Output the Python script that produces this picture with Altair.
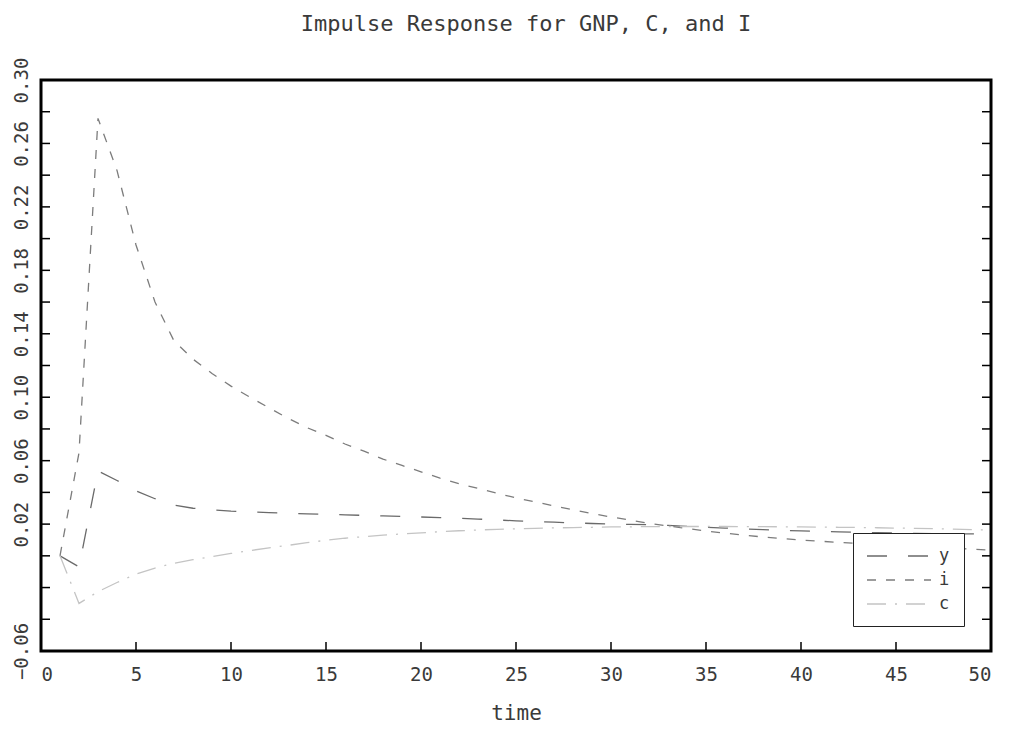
import altair as alt
import pandas as pd

# time index
t = list(range(1, 51))

# impulse responses
y_vals = [0.000, -0.007, 0.0535, 0.0475, 0.0410, 0.0360, 0.0320, 0.0300, 0.0290, 0.0282,
          0.0277, 0.0272, 0.0268, 0.0265, 0.0262, 0.0258, 0.0255, 0.0252, 0.0248, 0.0245,
          0.0241, 0.0237, 0.0232, 0.0226, 0.0221, 0.0216, 0.0212, 0.0208, 0.0204, 0.0201,
          0.0198, 0.0196, 0.0192, 0.0186, 0.0180, 0.0175, 0.0170, 0.0165, 0.0161, 0.0157,
          0.0154, 0.0151, 0.0148, 0.0146, 0.0144, 0.0142, 0.0140, 0.0139, 0.0138, 0.0137]
i_vals = [0.000, 0.065, 0.2758, 0.243, 0.196, 0.160, 0.1355, 0.124, 0.115, 0.107,
          0.100, 0.0933, 0.0867, 0.0808, 0.0760, 0.0705, 0.0660, 0.0610, 0.0570, 0.0530,
          0.0490, 0.0455, 0.0425, 0.0395, 0.0365, 0.0340, 0.0315, 0.0290, 0.0267, 0.0245,
          0.0225, 0.0205, 0.0188, 0.0172, 0.0157, 0.0143, 0.0130, 0.0119, 0.0109, 0.0100,
          0.0092, 0.0085, 0.0078, 0.0072, 0.0066, 0.0060, 0.0054, 0.0048, 0.0042, 0.0036]
c_vals = [0.000, -0.030, -0.0226, -0.0168, -0.0115, -0.0077, -0.0047, -0.0024, -0.0005, 0.0015,
          0.0033, 0.0050, 0.0066, 0.0083, 0.0098, 0.0111, 0.0121, 0.0130, 0.0138, 0.0145,
          0.0152, 0.0158, 0.0163, 0.0167, 0.0170, 0.0173, 0.0176, 0.0178, 0.0180, 0.0182,
          0.0183, 0.0184, 0.0185, 0.0185, 0.0185, 0.0185, 0.0184, 0.0184, 0.0183, 0.0182,
          0.0181, 0.0180, 0.0179, 0.0177, 0.0175, 0.0173, 0.0171, 0.0168, 0.0165, 0.0163]

series_names = ["y", "i", "c"]
series_colors = ["#6a6a6a", "#7c7c7c", "#c4c4c4"]
series_dash = [[20, 21], [9, 10], [19, 9, 2, 9]]

x_label_values = [0, 5, 10, 15, 20, 25, 30, 35, 40, 45, 50]
y_label_values = [0.30, 0.26, 0.22, 0.18, 0.14, 0.10, 0.06, 0.02, -0.06]
x_tick_values = [5, 10, 15, 20, 25, 30, 35, 40, 45]
y_tick_values = [-0.04, -0.02, 0.00, 0.02, 0.04, 0.06, 0.08, 0.10, 0.12, 0.14,
                 0.16, 0.18, 0.20, 0.22, 0.24, 0.26, 0.28]

W, H = 950, 571
FONT = "DejaVu Sans Mono"
TXT = "#3a3a3a"

rows = []
for name, vals in zip(series_names, [y_vals, i_vals, c_vals]):
    for tt, v in zip(t, vals):
        rows.append({"time": tt, "value": v, "series": name})
df = pd.DataFrame(rows)

xscale = alt.Scale(domain=[0, 50], nice=False, zero=False)
yscale = alt.Scale(domain=[-0.06, 0.30], nice=False, zero=False)

lines = alt.Chart(df).mark_line(strokeWidth=1.3).encode(
    x=alt.X("time:Q", scale=xscale,
            axis=alt.Axis(title="time", values=x_label_values, ticks=False, domain=False,
                          grid=False, labelFlush=True, labelPadding=14, titlePadding=18)),
    y=alt.Y("value:Q", scale=yscale,
            axis=alt.Axis(title=None, values=y_label_values, format=".2f", ticks=False,
                          domain=False, grid=False, labelAngle=-90, labelAlign="center",
                          labelBaseline="bottom", labelPadding=10)),
    color=alt.Color("series:N", scale=alt.Scale(domain=series_names, range=series_colors),
                    legend=alt.Legend(title=None)),
    strokeDash=alt.StrokeDash("series:N", scale=alt.Scale(domain=series_names, range=series_dash),
                              legend=alt.Legend(title=None)),
)

ydf = pd.DataFrame({"yt": y_tick_values})
xdf = pd.DataFrame({"xt": x_tick_values})
tick_color = "#000000"

left_ticks = alt.Chart(ydf).mark_rule(color=tick_color, strokeWidth=1.5).encode(
    y=alt.Y("yt:Q", scale=yscale, axis=None), x=alt.value(0), x2=alt.value(9))
right_ticks = alt.Chart(ydf).mark_rule(color=tick_color, strokeWidth=1.5).encode(
    y=alt.Y("yt:Q", scale=yscale, axis=None), x=alt.value(W), x2=alt.value(W - 9))
bottom_ticks = alt.Chart(xdf).mark_rule(color=tick_color, strokeWidth=1.5).encode(
    x=alt.X("xt:Q", scale=xscale, axis=None), y=alt.value(H), y2=alt.value(H - 9))

chart = alt.layer(lines, left_ticks, right_ticks, bottom_ticks).resolve_scale(
    x="independent", y="independent"
).properties(
    width=W, height=H,
    title=alt.Title("Impulse Response for GNP, C, and I", anchor="middle", frame="group",
                    font=FONT, fontSize=22, fontWeight="normal", color=TXT, offset=21, dx=10),
    autosize=alt.AutoSizeParams(type="none"),
    padding={"left": 33, "top": 72, "right": 12, "bottom": 80},
).configure_view(
    stroke="#000000", strokeWidth=3
).configure_axis(
    labelFont=FONT, labelFontSize=19, labelColor=TXT,
    titleFont=FONT, titleFontSize=21, titleFontWeight="normal", titleColor=TXT,
).configure_legend(
    orient="none", legendX=812, legendY=453,
    strokeColor="#222222", fillColor="#ffffff", padding=14,
    symbolType="M-4,0L4,0", symbolSize=256, symbolStrokeWidth=1.4,
    symbolOffset=23, labelOffset=31,
    labelFont=FONT, labelFontSize=17, labelColor=TXT, rowPadding=7,
)

chart.save("out.html", embed_options={"renderer": "svg", "actions": False})
